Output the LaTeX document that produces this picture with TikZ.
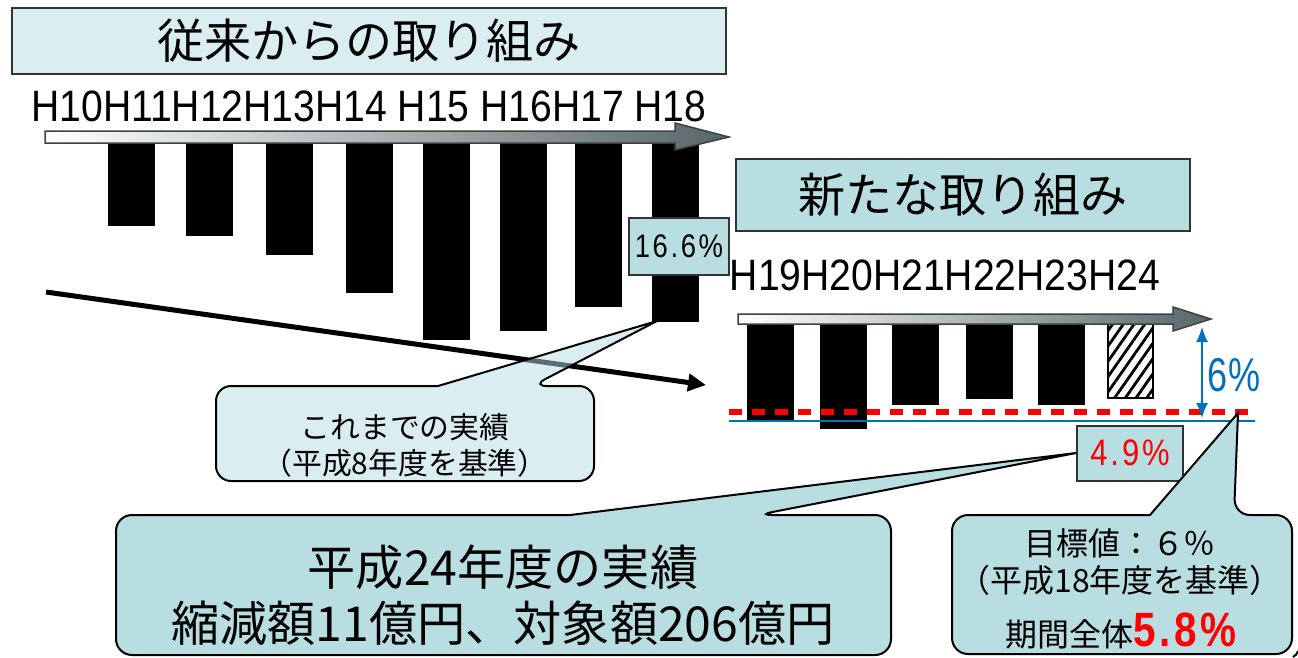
\documentclass[tikz,border=0pt]{standalone}
\usepackage{fontspec}
\usepackage{tikz}
\usetikzlibrary{arrows.meta, patterns.meta, positioning}
\setmainfont{Liberation Sans}
\newfontfamily\jpfont{Noto Sans CJK JP}
\newfontfamily\yearfont{Liberation Sans}[FakeStretch=0.89]
\newfontfamily\narrowfont{Liberation Sans}[FakeStretch=0.76]
\newfontfamily\pctfont{Liberation Sans}[FakeStretch=0.84, LetterSpace=8]
\definecolor{paleteal}{RGB}{218,238,241}
\definecolor{tealfill}{RGB}{185,222,226}
\definecolor{glassteal}{RGB}{181,221,227}
\definecolor{slate}{RGB}{86,102,104}
\definecolor{targetblue}{RGB}{0,112,192}
\tikzset{title box/.style={draw=black!80, line width=0.2mm, minimum height=6.6mm, inner sep=0pt, font=\jpfont\fontsize{13.4pt}{16pt}\selectfont}}
\tikzset{year row/.style={inner sep=0pt, font=\yearfont\fontsize{12.5pt}{14pt}\selectfont}}
\tikzset{value box/.style={draw=black!80, fill=tealfill, line width=0.2mm, inner sep=0pt, font=\pctfont\fontsize{9.3pt}{11pt}\selectfont}}
\tikzset{time arrow/.style={draw=black!75, line width=0.15mm, left color=white, right color=slate}}
\tikzset{callout/.style={draw=black, line width=0.2mm, fill=tealfill}}
\tikzset{callout text/.style={align=center, inner sep=0pt, font=\jpfont\fontsize{8.5pt}{10.2pt}\selectfont}}

\begin{document}
\begin{tikzpicture}[x=0.1mm, y=-0.1mm]
\useasboundingbox (0,0) rectangle (1298,657);

% until H18
\node[title box, fill=paleteal, minimum width=71.4mm] (old title) at (369,41) {従来からの取り組み};
\node[year row] (old years) at (369,106) {H10H11H12H13H14 H15 H16H17 H18};
\foreach \x/\b in {108/226, 186/236, 266/255, 346/293, 423/340, 500/331, 575/307, 652/322}
  \fill (\x,140) rectangle (\x+47,\b);
\path[time arrow] (45,131) -- (675,131) -- (675,123) -- (729,137) -- (675,150) -- (675,143) -- (45,143) -- cycle;
\coordinate (trend start) at (46,292);
\coordinate (trend end) at (706,385);
\draw[line width=0.5mm, -{Triangle[length=1.8mm, width=1.7mm]}] (trend start) -- (trend end);
\coordinate (old bottom) at (657,321);
\path[callout, fill=glassteal, fill opacity=0.5] (216,386) [rounded corners=1.5mm] -- (216,481) -- (594,481) -- (594,386) -- (532,386) [sharp corners] -- (old bottom) -- (438,386) [rounded corners=1.5mm] -- cycle;
\node[callout text] (old result) at (405,445) {これまでの実績\\（平成8年度を基準）};
\node[value box, minimum width=10mm, minimum height=5.7mm] (old rate) at (679,246) {16.6\%};

% from H19
\node[title box, fill=tealfill, minimum width=45.4mm, minimum height=7.2mm] (new title) at (963,195) {新たな取り組み};
\node[year row] (new years) at (945,275) {H19H20H21H22H23H24};
\foreach \x/\b in {747/420, 820/429, 892/405, 966/399, 1038/405}
  \fill (\x,322) rectangle (\x+47,\b);
\draw[line width=0.2mm, pattern={Lines[angle=55, distance=2.5pt, line width=0.8pt]}] (1108,324) rectangle (1153,398);
\path[time arrow] (738,314) -- (1173,314) -- (1173,307) -- (1211,319) -- (1173,331) -- (1173,324) -- (738,324) -- cycle;
\coordinate (goal left) at (729,412);
\coordinate (goal right) at (1251,412);
\coordinate (base left) at (729,421);
\coordinate (base right) at (1255,421);
\draw[red, line width=0.6mm, dash pattern=on 1.3mm off 1mm] (goal left) -- (goal right);
\draw[targetblue, line width=0.2mm] (base left) -- (base right);
\coordinate (gap top) at (1202,327);
\coordinate (gap bottom) at (1202,418);
\draw[targetblue, line width=0.15mm, {Latex[length=1.5mm, width=1.2mm]}-{Latex[length=1.5mm, width=1.2mm]}] (gap top) -- (gap bottom);
\node[inner sep=0pt, text=targetblue, font=\narrowfont\fontsize{13.5pt}{15pt}\selectfont] (goal gap) at (1234,375) {6\%};
\node[value box, minimum width=10.6mm, minimum height=5.5mm, text=red, font=\pctfont\fontsize{10.5pt}{12pt}\selectfont] (new rate) at (1130,453) {4.9\%};

% results
\path[callout] (116,515) [rounded corners=1.6mm] -- (116,655) -- (891,655) -- (891,515) -- (757,515) [sharp corners] -- (new rate.west) -- (570,515) [rounded corners=1.6mm] -- cycle;
\node[callout text, font=\jpfont\fontsize{13.7pt}{15.9pt}\selectfont] (year result) at (503,595) {平成24年度の実績\\縮減額11億円、対象額206億円};
\coordinate (goal mark) at (1238,413);
\path[callout] (952,515) [rounded corners=1.6mm] -- (952,654) -- (1292,654) -- (1292,515) -- (1234,515) [sharp corners] -- (goal mark) -- (1150,515) [rounded corners=1.6mm] -- cycle;
\node[callout text, font=\jpfont\fontsize{9.1pt}{10.6pt}\selectfont] (goal text) at (1120,562) {目標値：６％\\（平成18年度を基準）};
\node[anchor=base, inner sep=0pt, font=\jpfont\fontsize{9.1pt}{11pt}\selectfont] (whole term) at (1121,646) {期間全体{\pctfont\bfseries\fontsize{13.7pt}{15pt}\selectfont\color{red}5.8\%}};
\draw[line width=0.2mm] (1293,657) .. controls (1296,655) .. (1298,651);
\end{tikzpicture}
\end{document}
